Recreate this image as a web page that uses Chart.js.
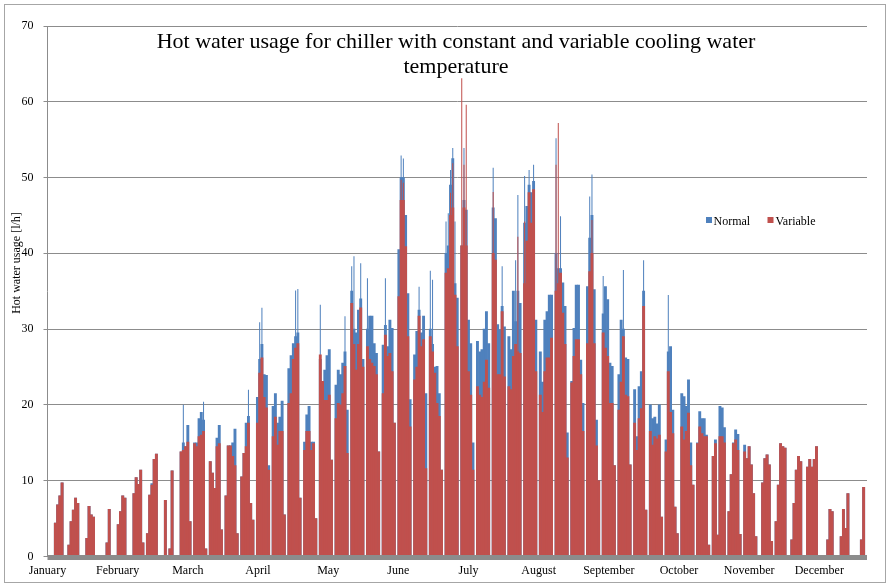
<!DOCTYPE html>
<html>
<head>
<meta charset="utf-8">
<title>Hot water usage</title>
<script src="https://cdn.jsdelivr.net/npm/chart.js@4.4.0/dist/chart.umd.min.js"></script>
<style>
  html, body { margin: 0; padding: 0; background: #fff; }
  #wrap { width: 894px; height: 586px; }
</style>
</head>
<body>
<div id="wrap"><canvas id="chart" width="894" height="586"></canvas></div>
<script>
// Hot water usage per day [l/h].
// Jan 1 is a Saturday; each row below is one week, Sunday..Saturday.

const chartTitle = ['Hot water usage for chiller with constant and variable cooling water', 'temperature'];
const yAxisTitle = 'Hot water usage [l/h]';
const seriesNames = ['Normal', 'Variable'];
const monthLabels = ['January', 'February', 'March', 'April', 'May', 'June',
                     'July', 'August', 'September', 'October', 'November', 'December'];
const monthTickStep = 31.25; // month labels every 750 hours
const yTicks = { min: 0, max: 70, step: 10 };

const normalDaily = [
  0,
  0, 0, 4.4, 6.8, 8.0, 9.7, 0,
  0, 1.5, 4.6, 6.1, 7.7, 7.0, 0,
  0, 0, 2.4, 6.6, 5.5, 5.2, 0,
  0, 0, 0, 0, 1.8, 6.2, 0,
  0, 0, 4.2, 5.9, 8.0, 7.7, 0,
  0, 0, 8.3, 10.4, 9.5, 11.4, 1.8,
  0, 3.0, 8.1, 9.6, 12.8, 13.5, 0,
  0, 0, 7.4, 0, 1.0, 11.3, 0,
  0, 0, 13.8, 15.0, 14.5, 17.3, 4.6,
  0, 15.0, 15.0, 18.2, 19.0, 18.0, 1.0,
  0, 12.5, 11.0, 9.0, 15.6, 17.3, 3.5,
  0, 8.0, 14.6, 14.6, 15.0, 16.8, 3.0,
  0, 10.5, 13.6, 17.6, 18.5, 7.0, 4.8,
  0, 21.0, 26.0, 28.0, 24.0, 23.9, 12.0,
  0, 19.8, 21.5, 17.6, 18.4, 20.5, 5.5,
  0, 24.8, 26.5, 28.1, 29.0, 29.5, 7.7,
  0, 15.1, 18.7, 19.8, 15.1, 15.1, 5.0,
  0, 26.0, 22.9, 24.6, 26.5, 27.3, 12.7,
  0, 22.6, 24.6, 24.0, 25.5, 27.0, 19.3,
  0, 35.0, 30.0, 29.5, 32.5, 34.0, 26.0,
  0, 30.0, 31.7, 31.7, 28.1, 26.8, 13.8,
  0, 27.9, 30.5, 27.7, 31.2, 30.1, 17.6,
  0, 40.5, 50.0, 50.0, 45.0, 34.7, 20.7,
  0, 26.6, 29.7, 32.5, 29.5, 31.7, 21.5,
  0, 30.0, 28.0, 25.0, 25.1, 21.5, 11.4,
  0, 40.0, 41.0, 49.0, 52.5, 36.0, 34.1,
  0, 41.0, 47.0, 45.7, 31.2, 28.1, 15.0,
  0, 28.4, 27.0, 27.3, 30.0, 32.3, 28.1,
  0, 46.0, 44.6, 30.6, 29.9, 33.0, 30.3,
  0, 29.0, 27.3, 35.0, 31.0, 35.0, 33.4,
  0, 44.0, 46.2, 49.0, 48.0, 49.5, 31.2,
  0, 27.0, 23.0, 31.2, 32.3, 34.5, 34.5,
  0, 40.0, 38.0, 38.0, 36.1, 33.0, 16.3,
  0, 23.1, 30.1, 35.8, 35.8, 25.9, 20.2,
  0, 35.6, 42.0, 45.0, 35.2, 18.0, 10.0,
  0, 32.0, 35.6, 33.9, 25.5, 25.1, 12.0,
  0, 24.0, 31.2, 30.0, 26.2, 26.0, 12.1,
  0, 22.0, 15.8, 22.4, 24.4, 35.0, 6.1,
  0, 20.0, 18.2, 18.4, 17.5, 20.0, 5.2,
  0, 15.4, 27.0, 27.7, 19.3, 6.5, 3.0,
  0, 21.5, 21.1, 19.8, 23.3, 15.0, 9.4,
  0, 15.0, 19.1, 18.2, 18.2, 16.0, 1.5,
  0, 13.2, 15.4, 2.8, 19.8, 19.6, 17.0,
  0, 5.9, 10.8, 15.0, 16.7, 16.1, 2.9,
  0, 14.7, 12.9, 14.5, 12.1, 8.3, 2.6,
  0, 0, 9.7, 12.9, 13.4, 12.1, 2.0,
  0, 4.6, 9.4, 14.9, 14.5, 14.3, 0,
  0, 2.2, 7.0, 11.4, 13.2, 12.5, 0,
  0, 11.8, 12.8, 11.8, 12.8, 14.5, 0,
  0, 0, 0, 2.2, 6.2, 5.9, 0,
  0, 0, 2.6, 6.2, 3.7, 8.3, 0,
  0, 0, 0, 0, 2.2, 9.1, 0
];

const variableDaily = [
  0,
  0, 0, 4.4, 6.8, 8.0, 9.7, 0,
  0, 1.5, 4.6, 6.1, 7.7, 7.0, 0,
  0, 0, 2.4, 6.6, 5.5, 5.2, 0,
  0, 0, 0, 0, 1.8, 6.2, 0,
  0, 0, 4.2, 5.9, 8.0, 7.7, 0,
  0, 0, 8.3, 10.4, 9.5, 11.4, 1.8,
  0, 3.0, 8.1, 9.4, 12.8, 13.5, 0,
  0, 0, 7.4, 0, 1.0, 11.3, 0,
  0, 0, 13.8, 14.0, 14.5, 15.1, 4.6,
  0, 14.9, 14.5, 15.8, 16.0, 16.5, 1.0,
  0, 12.5, 11.0, 9.0, 14.5, 14.9, 3.5,
  0, 8.0, 14.6, 14.6, 13.2, 12.0, 3.0,
  0, 10.5, 13.6, 14.5, 17.6, 7.0, 4.8,
  0, 17.6, 24.2, 26.2, 21.0, 19.6, 11.4,
  0, 15.8, 18.4, 14.7, 16.5, 16.5, 5.5,
  0, 20.2, 21.5, 26.0, 27.5, 28.1, 7.7,
  0, 14.0, 16.5, 16.5, 14.0, 14.9, 5.0,
  0, 26.6, 23.1, 20.6, 20.6, 21.3, 12.7,
  0, 18.2, 20.2, 20.0, 21.5, 25.1, 13.6,
  0, 33.4, 28.0, 24.6, 28.0, 32.8, 25.0,
  0, 27.7, 26.0, 25.5, 25.1, 24.0, 13.8,
  0, 21.5, 29.2, 26.4, 26.8, 24.4, 17.6,
  0, 34.3, 47.0, 47.0, 40.9, 29.0, 17.1,
  0, 23.3, 25.0, 31.7, 27.7, 28.6, 11.6,
  0, 29.0, 27.0, 24.2, 20.2, 18.5, 11.4,
  0, 37.4, 38.0, 45.0, 46.0, 34.5, 27.7,
  0, 41.0, 46.0, 41.0, 24.4, 21.3, 11.4,
  0, 22.4, 21.3, 21.0, 23.0, 25.9, 22.2,
  0, 40.0, 39.1, 24.0, 24.0, 32.3, 23.7,
  0, 22.4, 22.0, 26.4, 28.0, 27.0, 26.8,
  0, 36.0, 41.6, 48.0, 44.0, 48.4, 24.4,
  0, 21.3, 19.0, 24.4, 26.2, 26.2, 28.8,
  0, 35.0, 36.0, 37.4, 32.1, 28.0, 13.0,
  0, 22.9, 26.4, 28.6, 28.6, 24.0, 16.5,
  0, 28.1, 37.6, 40.0, 28.1, 14.6, 10.0,
  0, 29.5, 27.5, 26.4, 20.2, 20.2, 12.0,
  0, 19.3, 23.0, 29.0, 21.3, 21.1, 12.1,
  0, 17.6, 14.0, 18.2, 19.5, 33.0, 6.1,
  0, 16.5, 14.7, 15.8, 15.5, 16.0, 5.2,
  0, 13.8, 24.4, 19.0, 16.2, 6.5, 3.0,
  0, 17.1, 15.4, 16.5, 18.9, 12.0, 9.4,
  0, 14.9, 17.1, 16.2, 15.8, 15.8, 1.5,
  0, 13.2, 14.9, 2.8, 15.8, 15.8, 15.0,
  0, 5.9, 10.8, 14.9, 15.4, 14.0, 2.9,
  0, 13.8, 12.9, 14.5, 12.1, 8.3, 2.6,
  0, 0, 9.7, 12.9, 13.4, 12.1, 2.0,
  0, 4.6, 9.4, 14.9, 14.5, 14.3, 0,
  0, 2.2, 7.0, 11.4, 13.2, 12.5, 0,
  0, 11.8, 12.8, 11.8, 12.8, 14.5, 0,
  0, 0, 0, 2.2, 6.2, 5.9, 0,
  0, 0, 2.6, 6.2, 3.7, 8.3, 0,
  0, 0, 0, 0, 2.2, 9.1, 0
];

// short hourly peaks above the daily level: [day of year, l/h]
const normalPeaks = [
  [60, 20.0], [69, 20.4], [89, 22.0], [94, 30.9], [95, 32.8], [110, 35.1], [111, 35.3],
  [121, 33.2], [132, 31.7], [135, 38.3], [136, 39.6], [139, 38.7], [142, 36.7], [150, 36.7],
  [157, 52.9], [158, 52.5], [165, 35.6], [170, 37.7], [171, 36.5], [177, 44.2], [178, 45.3],
  [179, 51.0], [180, 53.9], [181, 44.2], [185, 53.9], [198, 51.3], [202, 38.3], [208, 39.1],
  [209, 47.7], [212, 50.2], [214, 51.0], [216, 51.7], [226, 55.2], [228, 44.9], [241, 47.5],
  [242, 50.4], [247, 37.0], [256, 37.8], [265, 39.1], [276, 34.5]
];
const variablePeaks = [
  [157, 49.7], [158, 49.3], [179, 48.0], [180, 51.9], [184, 63.1], [185, 51.7], [186, 59.6],
  [198, 48.1], [209, 42.2], [212, 44.2], [226, 51.7], [227, 57.2], [242, 44.4]
];

const BLUE = '#4f81bd';
const RED = '#c0504d';
const GRID = '#8c8c8c';
const SERIF = "'Liberation Serif', 'Times New Roman', serif";

Chart.defaults.font.family = SERIF;
Chart.defaults.color = '#000';

// bars sit in the middle of their day
const dailyPoints = vals => vals.map((v, i) => ({ x: i + 0.5, y: v }));
const peakPoints = list => list.map(([day, v]) => ({ x: day + 0.5, y: v }));

function barSet(label, data, color, width, order) {
    return {
        label: label,
        data: data,
        backgroundColor: color,
        borderWidth: 0,
        grouped: false,
        categoryPercentage: 1,
        barPercentage: width,
        order: order
    };
}

// title, axis title, legend, frame and the grey base band
const overlay = {
    id: 'overlay',
    beforeDraw(chart) {
        const ctx = chart.ctx;
        ctx.save();
        ctx.fillStyle = '#fff';
        ctx.fillRect(0, 0, chart.width, chart.height);
        ctx.strokeStyle = '#a6a6a6';
        ctx.lineWidth = 1;
        ctx.strokeRect(4.5, 4.5, 881, 578);
        ctx.restore();
    },
    afterDatasetsDraw(chart) {
        const { ctx, chartArea } = chart;
        ctx.save();
        ctx.fillStyle = GRID;
        ctx.fillRect(chartArea.left, chartArea.bottom - 1.4, chartArea.right - chartArea.left, 5);
        ctx.restore();
    },
    afterDraw(chart) {
        const ctx = chart.ctx;
        ctx.save();
        ctx.fillStyle = '#000';

        ctx.font = '22px ' + SERIF;
        ctx.textAlign = 'center';
        ctx.textBaseline = 'middle';
        ctx.fillText(chartTitle[0], 456, 42);
        ctx.fillText(chartTitle[1], 456, 67);

        ctx.save();
        ctx.font = '12px ' + SERIF;
        ctx.translate(17, 263);
        ctx.rotate(-Math.PI / 2);
        ctx.fillText(yAxisTitle, 0, 0);
        ctx.restore();

        ctx.font = '12px ' + SERIF;
        ctx.textAlign = 'left';
        ctx.textBaseline = 'alphabetic';
        ctx.fillStyle = BLUE;
        ctx.fillRect(706, 217, 6, 6);
        ctx.fillStyle = RED;
        ctx.fillRect(767.5, 217, 6, 6);
        ctx.fillStyle = '#000';
        ctx.fillText(seriesNames[0], 713.5, 224.5);
        ctx.fillText(seriesNames[1], 775.5, 224.5);
        ctx.restore();
    }
};

new Chart(document.getElementById('chart'), {
    type: 'bar',
    data: {
        datasets: [
            barSet(seriesNames[1], dailyPoints(variableDaily), RED, 1, 0),
            barSet(seriesNames[1] + ' peak', peakPoints(variablePeaks), RED, 0.45, 1),
            barSet(seriesNames[0], dailyPoints(normalDaily), BLUE, 1, 2),
            barSet(seriesNames[0] + ' peak', peakPoints(normalPeaks), BLUE, 0.45, 3)
        ]
    },
    options: {
        responsive: false,
        animation: false,
        events: [],
        layout: { padding: { top: 26, right: 27, bottom: 0, left: 0 } },
        plugins: {
            legend: { display: false },
            title: { display: false },
            tooltip: { enabled: false }
        },
        scales: {
            x: {
                type: 'linear',
                min: 0,
                max: 365,
                offset: false,
                grid: { display: false, drawTicks: false },
                border: { display: false },
                ticks: {
                    stepSize: monthTickStep,
                    includeBounds: false,
                    autoSkip: false,
                    maxRotation: 0,
                    padding: 7,
                    font: { size: 12 },
                    callback: v => monthLabels[Math.round(v / monthTickStep)]
                },
                afterFit: scale => { scale.height = 29.6; }
            },
            y: {
                min: yTicks.min,
                max: yTicks.max,
                ticks: { stepSize: yTicks.step, padding: 10, font: { size: 12 } },
                grid: { color: GRID, tickLength: 4 },
                border: { color: GRID },
                afterFit: scale => { scale.width = 47.5; }
            }
        }
    },
    plugins: [overlay]
});
</script>
</body>
</html>
